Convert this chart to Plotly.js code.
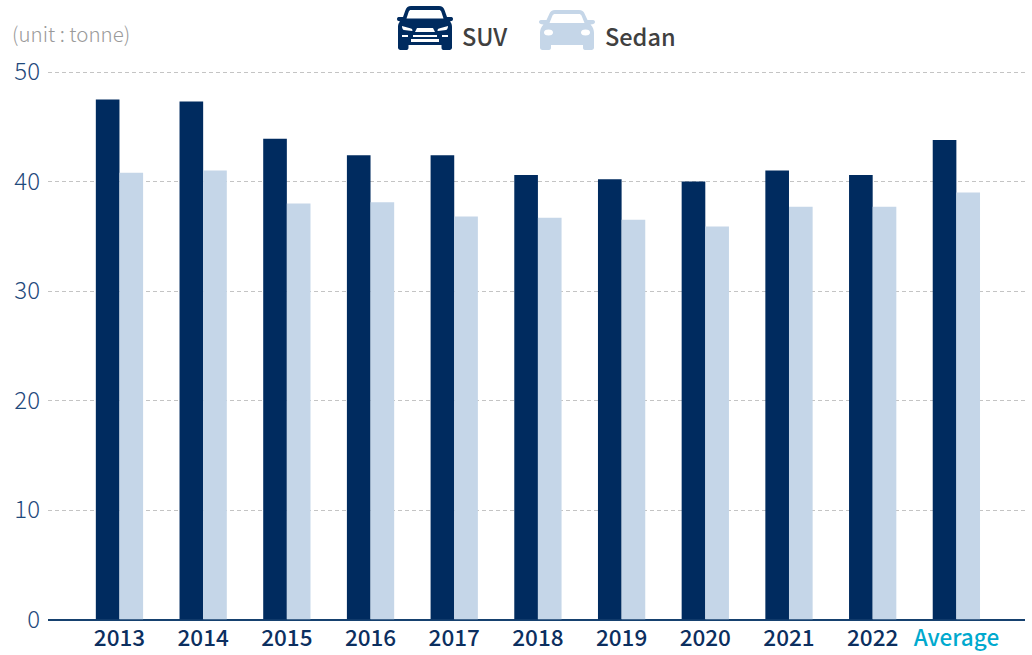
<!DOCTYPE html>
<html><head><meta charset="utf-8">
<script src="https://cdn.plot.ly/plotly-3.0.1.min.js"></script>
<style>html,body{margin:0;padding:0;background:#fff}#c{width:1032px;height:655px}</style></head>
<body><div id="c"></div>
<script>
const categories=['2013','2014','2015','2016','2017','2018','2019','2020','2021','2022','Average'];
const tickLabels=['2013','2014','2015','2016','2017','2018','2019','2020','2021','2022','<span style="color:#00a9ce">Average</span>'];
const suv=[47.5,47.3,43.9,42.4,42.4,40.6,40.2,40.0,41.0,40.6,43.8];
const sedan=[40.8,41.0,38.0,38.1,36.8,36.7,36.5,35.9,37.7,37.7,39.0];
const NAVY='#002b5f', LIGHT='#c5d6e8', FONT='"Noto Sans CJK KR","Noto Sans",sans-serif';
const W=1032,H=655;
function suvIcon(c){return 'data:image/svg+xml;utf8,'+encodeURIComponent(
`<svg xmlns="http://www.w3.org/2000/svg" width="56" height="44" viewBox="0 0 56 44">
<path fill="${c}" fill-rule="evenodd" d="M14 0H42C45 0 46.5 1.5 47.5 4L50 11H54.5C55.5 11 56 12 56 13C56 14.500 55 15 53 15.500C54.500 17 55 19 55 21V41.500C55 43 54 44 52.500 44H46.500C45 44 44.500 43 44.500 41.500V39H11.500V41.500C11.500 43 11 44 9.500 44H3.500C2 44 1 43 1 41.500V21C1 19 1.500 17 3 15.500C1 15 0 14.500 0 13C0 12 .5 11 1.500 11H6L8.500 4C9.500 1.500 11 0 14 0ZM14 4C12.800 4 12.200 4.600 11.800 5.600L9.500 12.500H46.500L44.200 5.600C43.800 4.600 43.200 4 42 4ZM5 20C5 20 5 23.500 7 24L15 25C16 25 15.500 23 14 22.500ZM51 20L42 22.500C40.500 23 40 25 41 25L49 24C51 23.500 51 20 51 20ZM20 22L18 26H38L36 22ZM16 29V31H40V29ZM14 33V36H42V33ZM5 29V31H11V29ZM45 29V31H51V29Z"/></svg>`);}
function sedanIcon(c){return 'data:image/svg+xml;utf8,'+encodeURIComponent(
`<svg xmlns="http://www.w3.org/2000/svg" width="56" height="40" viewBox="0 0 56 40">
<path fill="${c}" fill-rule="evenodd" d="M16 0H40C43 0 44.500 1.500 45.500 3.500L48.500 10H54C55.500 10 56 11 56 12C56 13.500 54.500 14.500 51.500 14.500C54 17 55 20 55 23V37.500C55 39 54 40 52.500 40H46C44.500 40 44 39 44 37.500V35H12V37.500C12 39 11.500 40 10 40H3.500C2 40 1 39 1 37.500V23C1 20 2 17 4.500 14.500C1.500 14.500 0 13.500 0 12C0 11 .5 10 2 10H7.500L10.500 3.500C11.500 1.500 13 0 16 0ZM16 4C14.800 4 14 4.600 13.500 5.600L10.500 13H45.500L42.500 5.600C42 4.600 41.200 4 40 4ZM9.500 19.500A4.500 3 0 1 0 9.510 25.500A4.500 3 0 1 0 9.500 19.500ZM46.500 19.500A4.500 3 0 1 0 46.510 25.500A4.500 3 0 1 0 46.500 19.500Z"/></svg>`);}
const common={type:'bar',x:categories.map((_,i)=>i),hoverinfo:'skip'};
const traces=[
 Object.assign({},common,{name:'SUV',y:suv,marker:{color:NAVY,line:{width:0}}}),
 Object.assign({},common,{name:'Sedan',y:sedan,marker:{color:LIGHT,line:{width:0}}})
];
const px=v=>v/W, py=v=>1-v/H;
const layout={
 width:W,height:H,margin:{l:0,r:0,t:0,b:0},showlegend:false,
 paper_bgcolor:'#fff',plot_bgcolor:'#fff',barmode:'group',bargap:0.435,bargroupgap:0,
 font:{family:FONT},
 xaxis:{domain:[48/W,1025/W],range:[-0.854,10.82],tickmode:'array',tickvals:categories.map((_,i)=>i),ticktext:tickLabels,
  ticks:'',showgrid:false,zeroline:false,showline:false,tickfont:{family:FONT,size:22.5,color:'#0c2f5f',weight:500},ticklabelstandoff:3,automargin:false},
 yaxis:{domain:[1-619.5/H,1-70/H],range:[0,50*549.5/547.5],tickvals:[0,10,20,30,40,50],ticks:'',
  showgrid:true,gridcolor:'#c4c4c4',griddash:'4px,3px',gridwidth:1,zeroline:true,zerolinecolor:'#16416f',zerolinewidth:2,showline:false,
  tickfont:{family:FONT,size:24,color:'#1f4a7c',weight:300},ticklabelstandoff:7,automargin:false},
 annotations:[
  {xref:'paper',yref:'paper',x:px(10),y:py(33),xanchor:'left',yanchor:'middle',text:'(unit : tonne)',showarrow:false,font:{family:FONT,size:20.5,color:'#9a9a9a',weight:300}},
  {xref:'paper',yref:'paper',x:px(460),y:py(36),xanchor:'left',yanchor:'middle',text:'SUV',showarrow:false,font:{family:FONT,size:23.5,color:'#404040',weight:500}},
  {xref:'paper',yref:'paper',x:px(603),y:py(36),xanchor:'left',yanchor:'middle',text:'Sedan',showarrow:false,font:{family:FONT,size:23.5,color:'#404040',weight:500}}
 ],
 images:[
  {source:suvIcon(NAVY),xref:'paper',yref:'paper',x:px(397),y:py(6),sizex:px(56),sizey:44/H,xanchor:'left',yanchor:'top',sizing:'stretch',layer:'above'},
  {source:sedanIcon(LIGHT),xref:'paper',yref:'paper',x:px(539),y:py(10),sizex:px(56),sizey:40/H,xanchor:'left',yanchor:'top',sizing:'stretch',layer:'above'}
 ]
};
Plotly.newPlot('c',traces,layout,{displayModeBar:false,staticPlot:true});
</script></body></html>
